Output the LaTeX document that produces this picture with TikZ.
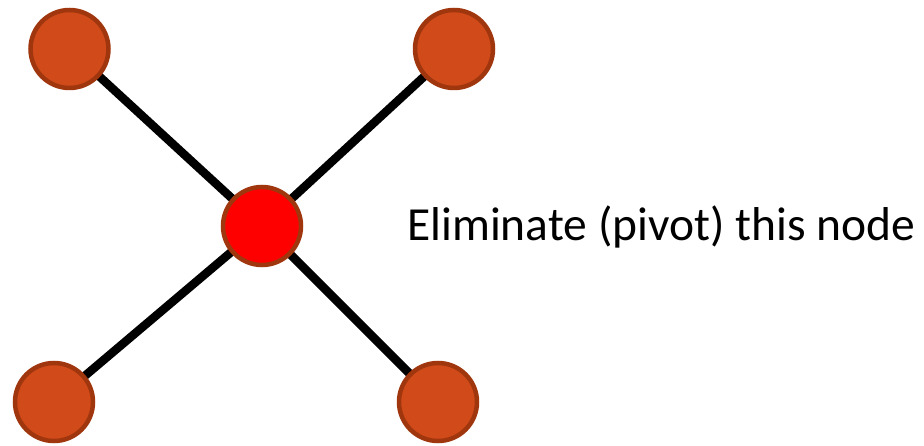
\documentclass[tikz,border=0pt]{standalone}
\usepackage{fontspec}
\setmainfont{Carlito}
\definecolor{outerfill}{HTML}{D04A1A}
\definecolor{outerdraw}{HTML}{A0360E}
\definecolor{pivotfill}{HTML}{FF0000}
\begin{document}
\begin{tikzpicture}[x=1pt,y=-1pt,
  outer/.style={circle,fill=outerfill,draw=outerdraw,line width=4.5pt,minimum size=78pt,inner sep=0pt},
  pivot/.style={circle,fill=pivotfill,draw=outerdraw,line width=4.5pt,minimum size=78pt,inner sep=0pt},
  edge/.style={line width=8.5pt,black}]
\useasboundingbox (0,0) rectangle (924,446);
\coordinate (tl) at (69.5,49);
\coordinate (tr) at (454,49);
\coordinate (bl) at (54,402);
\coordinate (br) at (438,402);
\coordinate (c) at (262,226);
\draw[edge] (tl) -- (c);
\draw[edge] (tr) -- (c);
\draw[edge] (bl) -- (c);
\draw[edge] (br) -- (c);
\node[outer] (ntl) at (tl) {};
\node[outer] (ntr) at (tr) {};
\node[outer] (nbl) at (bl) {};
\node[outer] (nbr) at (br) {};
\node[pivot] (nc) at (c) {};
\node[anchor=base west,inner sep=0pt,font=\fontsize{47.5}{56}\selectfont] (lbl) at (407,241) {Eliminate (pivot) this node};
\end{tikzpicture}
\end{document}
